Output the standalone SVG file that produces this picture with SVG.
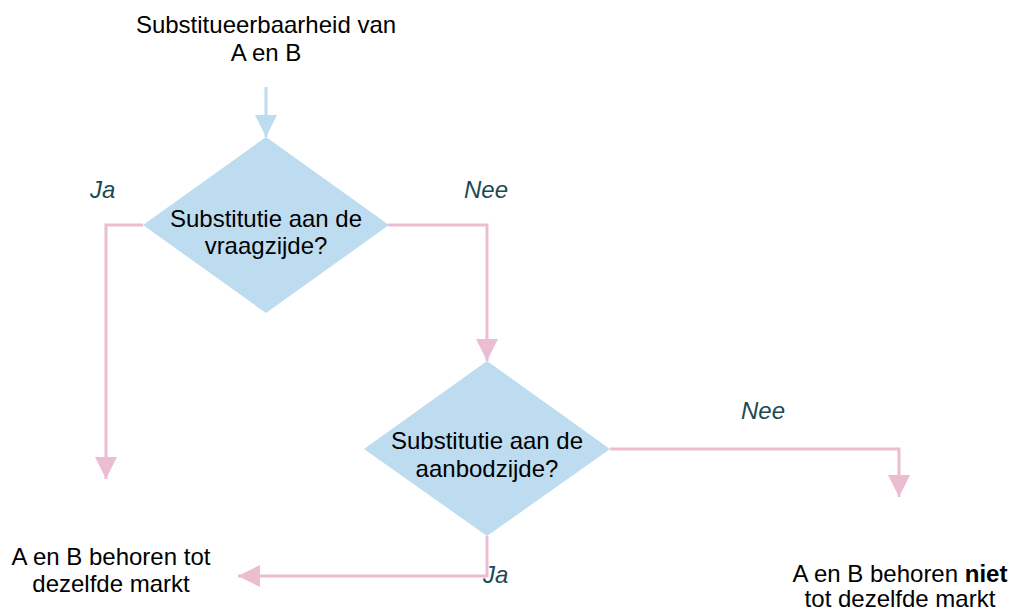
<svg xmlns="http://www.w3.org/2000/svg" width="1013" height="612" viewBox="0 0 1013 612">
<style>
text{font-family:"Liberation Sans",Arial,sans-serif;font-size:24px;fill:#000;text-anchor:middle}
.lbl{font-style:italic;fill:#1B4A55;text-anchor:start}
.dia{fill:#BDDCF0}
.pink{fill:none;stroke:#ECBDD1;stroke-width:3}
.blue{fill:none;stroke:#BDDCF0;stroke-width:3}
</style>
<defs>
<marker id="ap" markerUnits="userSpaceOnUse" markerWidth="24" markerHeight="24" refX="22" refY="11" orient="auto" viewBox="0 0 24 22"><path d="M0,0 L22,11 L0,22 Z" fill="#ECBDD1"/></marker>
<marker id="ab" markerUnits="userSpaceOnUse" markerWidth="24" markerHeight="24" refX="22" refY="11" orient="auto" viewBox="0 0 24 22"><path d="M0,0 L22,11 L0,22 Z" fill="#BDDCF0"/></marker>
</defs>
<g id="start">
<text x="266" y="33">Substitueerbaarheid van</text>
<text x="266" y="61">A en B</text>
</g>
<g id="connectors">
<path class="blue" d="M266,87 V137" marker-end="url(#ab)"/>
<path class="pink" d="M143,225 H106 V479" marker-end="url(#ap)"/>
<path class="pink" d="M388,225 H487 V361" marker-end="url(#ap)"/>
<path class="pink" d="M610,449 H899 V497" marker-end="url(#ap)"/>
<path class="pink" d="M487,536 V576 H238" marker-end="url(#ap)"/>
<text class="lbl" x="90" y="198">Ja</text>
<text class="lbl" x="464" y="198">Nee</text>
<text class="lbl" x="741" y="419">Nee</text>
<text class="lbl" x="483" y="583">Ja</text>
</g>
<g id="decision1">
<polygon class="dia" points="266,137 389,225 266,313 143,225"/>
<text x="266" y="227">Substitutie aan de</text>
<text x="266" y="254">vraagzijde?</text>
</g>
<g id="decision2">
<polygon class="dia" points="487,361 610,449 487,536 364,449"/>
<text x="487" y="449">Substitutie aan de</text>
<text x="487" y="477">aanbodzijde?</text>
</g>
<g id="result-same">
<text x="111" y="565">A en B behoren tot</text>
<text x="111" y="592">dezelfde markt</text>
</g>
<g id="result-different">
<text x="900" y="582">A en B behoren <tspan font-weight="bold">niet</tspan></text>
<text x="900" y="607">tot dezelfde markt</text>
</g>
</svg>
